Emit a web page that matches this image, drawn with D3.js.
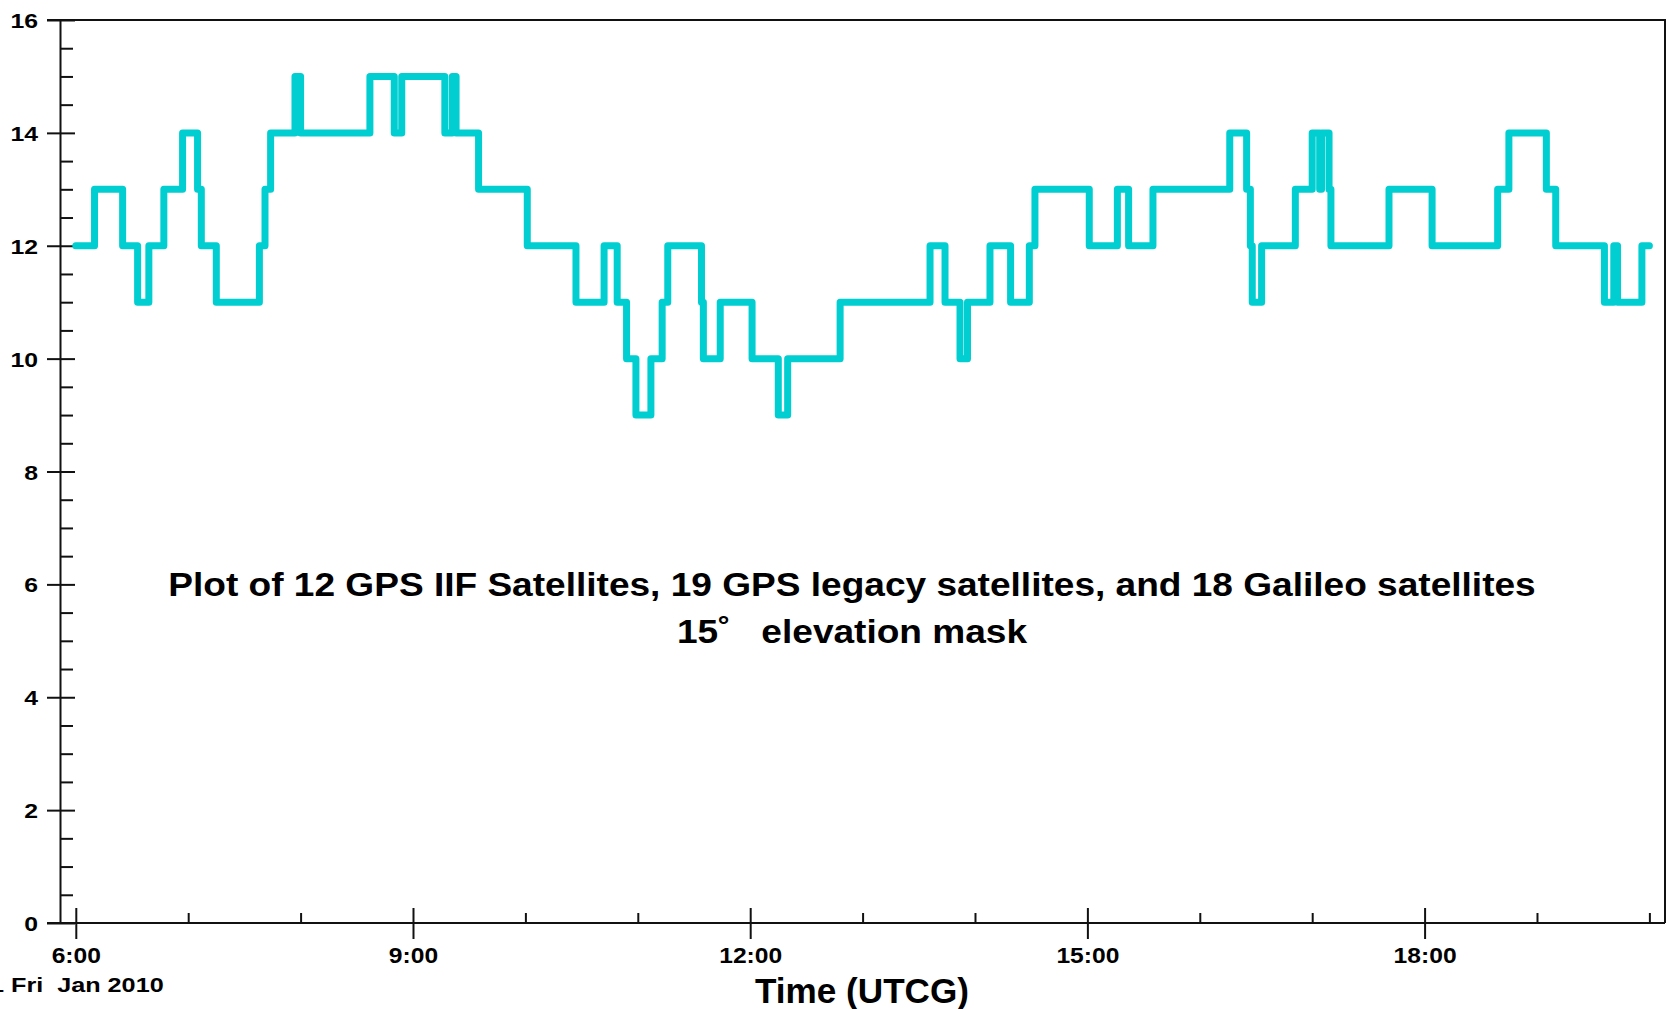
<!DOCTYPE html>
<html lang="en">
<head>
<meta charset="utf-8">
<title>Visible satellites</title>
<script src="https://d3js.org/d3.v7.min.js"></script>
<style>
  body { margin: 0; background: #fff; }
  svg { display: block; }
  text { font-family: "Liberation Sans", Arial, sans-serif; font-weight: bold; fill: #000; }
</style>
</head>
<body>
<div id="chart"></div>
<script>
// step changes: time (UTCG, 1 Jan 2010) and number of satellites from that time on
var changeTimes = ["06:00","06:10","06:25","06:33","06:39","06:47","06:57","07:05","07:07","07:15",
  "07:38","07:41","07:44","07:57","08:00","08:37","08:50","08:54","09:17","09:21",
  "09:23","09:35","10:01","10:27","10:42","10:49","10:54","10:59","11:07","11:13",
  "11:16","11:34","11:35","11:44","12:01","12:15","12:20","12:48","13:36","13:44",
  "13:52","13:56","14:08","14:19","14:29","14:32","15:01","15:16","15:22","15:35",
  "16:16","16:25","16:27","16:28","16:33","16:51","17:00","17:04","17:05","17:09",
  "17:10","17:41","18:04","18:39","18:45","19:05","19:10","19:36","19:41","19:43",
  "19:56","20:00"];
var satCounts = [12,13,12,11,12,13,14,13,12,11,
  12,13,14,15,14,15,14,15,14,15,
  14,13,12,11,12,11,10,9,10,11,
  12,11,10,11,10,9,10,11,12,11,
  10,11,12,11,12,13,12,13,12,13,
  14,13,12,11,12,13,14,13,14,13,
  12,13,12,13,14,13,12,11,12,11,
  12,12];
var yTickValues = [0, 2, 4, 6, 8, 10, 12, 14, 16];
var titleLines = ["Plot of 12 GPS IIF Satellites, 19 GPS legacy satellites, and 18 Galileo satellites",
  "15\u02DA   elevation mask"];
var xLabel = "Time (UTCG)";
var dateLabel = "1 Fri  Jan 2010";

var W = 1667, H = 1009;
var plotL = 60, plotR = 1665, plotT = 20, plotB = 923;
var parseT = function(s) { return new Date("2010-01-01T" + s + ":00Z"); };

var data = changeTimes.map(function(t, i) { return {t: parseT(t), n: satCounts[i]}; });

var svg = d3.select("#chart").append("svg")
  .attr("width", W)
  .attr("height", H);

var x = d3.scaleUtc()
  .domain([new Date("2010-01-01T05:51:34Z"), new Date("2010-01-01T20:08:20Z")])
  .range([plotL, plotR]);

var y = d3.scaleLinear()
  .domain([0, 16])
  .range([plotB, plotT]);

var ink = "#111";

// frame top and right
svg.append("path")
  .attr("d", "M47," + plotT + "H" + plotR + "V" + plotB)
  .attr("fill", "none")
  .attr("stroke", ink)
  .attr("stroke-width", 2);

// y axis, major ticks with labels
var yAxis = svg.append("g")
  .attr("transform", "translate(" + plotL + ",0)")
  .call(d3.axisLeft(y).tickValues(yTickValues).tickSizeOuter(0).tickFormat(d3.format("d")));
yAxis.selectAll(".tick line").attr("x1", -13).attr("x2", 15);
yAxis.selectAll(".tick text")
  .attr("x", null).attr("dy", "0.36em")
  .attr("font-size", 21)
  .attr("transform", "translate(-22,0) scale(1.18,1)");

// y minor ticks every 0.5
var yMinor = d3.range(0.5, 16, 0.5).filter(function(v) { return v % 2 !== 0; });
var yAxisMinor = svg.append("g")
  .attr("transform", "translate(" + plotL + ",0)")
  .call(d3.axisRight(y).tickValues(yMinor).tickSize(13).tickFormat(""));
yAxisMinor.select(".domain").remove();

// x axis, major ticks every 3 hours
var xAxis = svg.append("g")
  .attr("transform", "translate(0," + plotB + ")")
  .call(d3.axisBottom(x).ticks(d3.utcHour.every(3)).tickSizeOuter(0).tickFormat(d3.utcFormat("%-H:%M")));
xAxis.select(".domain").attr("d", "M47,0H" + plotR);
xAxis.selectAll(".tick line").attr("y1", -15).attr("y2", 16);
xAxis.selectAll(".tick text")
  .attr("y", null).attr("dy", null)
  .attr("font-size", 22)
  .attr("transform", "translate(0,40) scale(1.12,1)");

// x minor ticks every hour
var xMinor = d3.utcHour.range(x.domain()[0], x.domain()[1]).filter(function(d) { return d.getUTCHours() % 3 !== 0; });
var xAxisMinor = svg.append("g")
  .attr("transform", "translate(0," + plotB + ")")
  .call(d3.axisTop(x).tickValues(xMinor).tickSize(10).tickFormat(""));
xAxisMinor.select(".domain").remove();

svg.selectAll(".domain, .tick line").attr("stroke", ink).attr("stroke-width", 2);
svg.selectAll(".tick text").attr("fill", "#000").style("font-family", null);

// satellite count line
var line = d3.line()
  .x(function(d) { return x(d.t); })
  .y(function(d) { return y(d.n); })
  .curve(d3.curveStepAfter);

svg.append("path")
  .datum(data)
  .attr("d", line)
  .attr("fill", "none")
  .attr("stroke", "#00ced1")
  .attr("stroke-width", 7)
  .attr("stroke-linejoin", "round")
  .attr("stroke-linecap", "round");

// caption in the plot
var cap1 = svg.append("text")
  .attr("text-anchor", "middle")
  .attr("font-size", 33)
  .text(titleLines[0]);
var sx = 1368 / cap1.node().getComputedTextLength();
cap1.attr("transform", "translate(852,596) scale(" + sx + ",1)");
svg.append("text")
  .attr("text-anchor", "middle")
  .attr("font-size", 33)
  .style("white-space", "pre")
  .attr("transform", "translate(852,643) scale(" + sx + ",1)")
  .text(titleLines[1]);

// axis title and date
var xt = svg.append("text")
  .attr("text-anchor", "middle")
  .attr("font-size", 35)
  .text(xLabel);
var sxt = 214 / xt.node().getComputedTextLength();
xt.attr("transform", "translate(862,1003) scale(" + sxt + ",1)");

svg.append("text")
  .attr("font-size", 21)
  .style("white-space", "pre")
  .attr("transform", "translate(-10,992) scale(1.2,1)")
  .text(dateLabel);
</script>
</body>
</html>
